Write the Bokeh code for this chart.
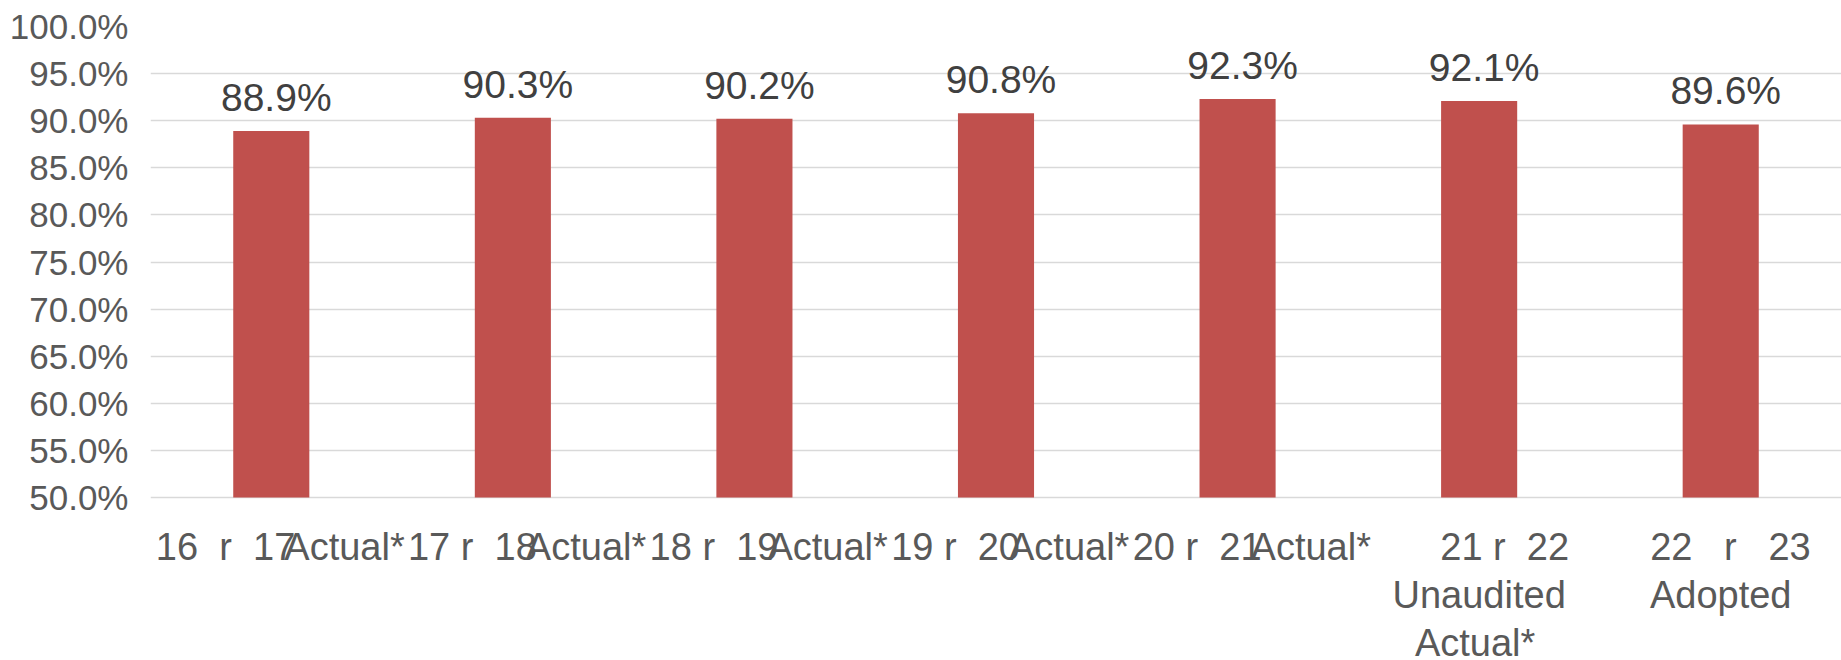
from bokeh.plotting import figure
from bokeh.models import ColumnDataSource, LabelSet, FixedTicker, PrintfTickFormatter, Range1d
from bokeh.core.properties import value
from bokeh.embed import file_html
from bokeh.resources import INLINE

# ---- data ----
line1 = ["16  r  17", "17 r  18", "18 r  19", "19 r  20", "20 r  21", "21 r  22", "22   r   23"]
line2 = ["Actual*", "Actual*", "Actual*", "Actual*", "Actual*", "Unaudited", "Adopted"]
line3 = ["", "", "", "", "", "Actual*", ""]
values = [88.9, 90.3, 90.2, 90.8, 92.3, 92.1, 89.6]
value_labels = ["88.9%", "90.3%", "90.2%", "90.8%", "92.3%", "92.1%", "89.6%"]
y_ticks = [50, 55, 60, 65, 70, 75, 80, 85, 90, 95, 100]

n = len(values)
xs = [i + 0.5 for i in range(n)]
stacked = [i >= 5 for i in range(n)]
# keep repeated spaces visible in SVG text
l1 = [s.replace(" ", "\u00a0") for s in line1]

px_per_unit = 471 / 50.0
bottom_pad = 163  # pixels below the 50% line reserved for category labels

def y_at(pix_below):
    return 50 - pix_below / px_per_unit

p = figure(width=1841, height=660, output_backend="svg", toolbar_location=None,
           x_range=Range1d(0, n), y_range=Range1d(y_at(bottom_pad), 100),
           min_border_left=150, min_border_right=0, min_border_top=26, min_border_bottom=0)
p.outline_line_color = None
p.background_fill_color = "white"
p.border_fill_color = "white"

bars = ColumnDataSource(dict(x=xs, top=values, lab=value_labels))
p.vbar(x="x", top="top", bottom=50, width=0.315, source=bars, fill_color="#C0504D", line_color=None)

# value labels
p.add_layout(LabelSet(x="x", y="top", text="lab", source=bars, x_offset=5, y_offset=20,
                      text_align="center", text_baseline="alphabetic",
                      text_font=value("Liberation Sans"), text_font_size=value("39px"),
                      text_color="#404040"))

# y axis
p.yaxis.ticker = FixedTicker(ticks=y_ticks)
p.yaxis.formatter = PrintfTickFormatter(format="%.1f%%")
p.yaxis.axis_line_color = None
p.yaxis.major_tick_line_color = None
p.yaxis.minor_tick_line_color = None
p.yaxis.major_tick_out = 0
p.yaxis.major_tick_in = 0
p.yaxis.major_label_standoff = 22
p.yaxis.major_label_text_font = "Liberation Sans"
p.yaxis.major_label_text_font_size = "35px"
p.yaxis.major_label_text_color = "#595959"

p.ygrid.ticker = FixedTicker(ticks=y_ticks)
p.ygrid.grid_line_color = "#D9D9D9"
p.ygrid.grid_line_width = 1.5
p.xgrid.grid_line_color = None
p.xaxis.visible = False

common = dict(text_font=value("Liberation Sans"), text_font_size=value("38px"),
              text_color="#595959", text_baseline="middle")

# single-row labels: first part right-aligned, second left-aligned (overlapping, as in reference)
a_idx = [i for i in range(n) if not stacked[i]]
src_a = ColumnDataSource(dict(x=[xs[i] for i in a_idx], y=[y_at(49)] * len(a_idx),
                              t1=[l1[i] for i in a_idx], t2=[line2[i] for i in a_idx]))
p.add_layout(LabelSet(x="x", y="y", text="t1", source=src_a, x_offset=24, text_align="right", **common))
p.add_layout(LabelSet(x="x", y="y", text="t2", source=src_a, x_offset=13, text_align="left", **common))

# stacked labels for the last categories
b_idx = [i for i in range(n) if stacked[i]]
src_b = ColumnDataSource(dict(
    x=[xs[i] for i in b_idx],
    y1=[y_at(49)] * len(b_idx), y2=[y_at(97)] * len(b_idx), y3=[y_at(145)] * len(b_idx),
    t1=[l1[i] for i in b_idx], t2=[line2[i] for i in b_idx], t3=[line3[i] for i in b_idx]))
p.add_layout(LabelSet(x="x", y="y1", text="t1", source=src_b, x_offset=90, text_align="right", **common))
p.add_layout(LabelSet(x="x", y="y2", text="t2", source=src_b, x_offset=0, text_align="center", **common))
p.add_layout(LabelSet(x="x", y="y3", text="t3", source=src_b, x_offset=-4, text_align="center", **common))

open("out.html", "w").write(file_html(p, INLINE))
